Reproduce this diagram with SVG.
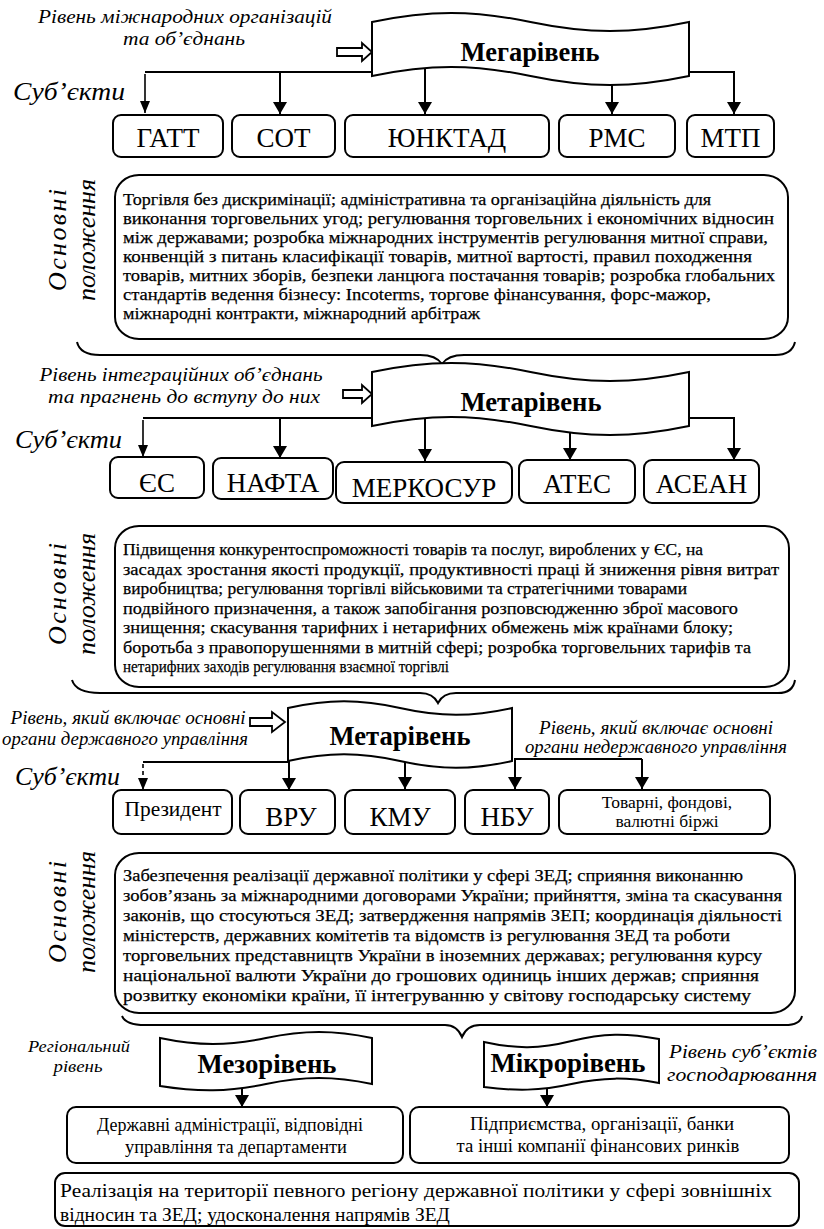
<svg xmlns="http://www.w3.org/2000/svg" width="824" height="1229" viewBox="0 0 824 1229">
<defs>
<style>
.t{font-family:"Liberation Serif","Times New Roman",serif;fill:#000}
.i{font-style:italic}
.ln{fill:none;stroke:#000;stroke-width:2}
.bx{fill:#fff;stroke:#000;stroke-width:2}
.bn{fill:#fff;stroke:#000;stroke-width:2}
.ar{stroke:#000;stroke-width:2;fill:none;marker-end:url(#ah)}
.ars{stroke:#000;stroke-width:1.6;fill:none;marker-end:url(#ahs)}
.ho{fill:#fff;stroke:#000;stroke-width:1.8}
.bt{font-size:17.5px;stroke:#000;stroke-width:0.25}
.sub{font-size:25px;font-style:italic}
.lbl{font-size:19px;font-style:italic}
.nd{font-size:27px}
.rot{font-size:26px;font-style:italic}
.bnt{font-size:27px;font-weight:bold}
</style>
<marker id="ah" viewBox="0 0 12 14" refX="12" refY="7" markerWidth="12" markerHeight="14" markerUnits="userSpaceOnUse" orient="auto"><path d="M0,0L12,7L0,14z"/></marker>
<marker id="ahs" viewBox="0 0 12 10" refX="12" refY="5" markerWidth="12" markerHeight="10" markerUnits="userSpaceOnUse" orient="auto"><path d="M0,0L12,5L0,10z"/></marker>
</defs>
<rect width="824" height="1229" fill="#fff"/>

<g id="connectors">
  <path class="ln" d="M145,72H372"/>
  <path class="ars" d="M145,74V113"/>
  <path class="ar" d="M280,72V114"/>
  <path class="ar" d="M425,66V114"/>
  <path class="ar" d="M612,84V114"/>
  <path class="ar" d="M689,72H734V114"/>
  <polygon class="ho" points="337,48 362,48 362,43 372,52 362,61 362,56 337,56"/>
  <path class="ln" d="M143,418H372"/>
  <path class="ars" d="M143,420V457"/>
  <path class="ar" d="M280,418V458"/>
  <path class="ar" d="M425,414V461"/>
  <path class="ar" d="M570,431V460"/>
  <path class="ar" d="M689,418H734V460"/>
  <polygon class="ho" points="343,390 362,390 362,385 372,394 362,403 362,398 343,398"/>
  <path class="ln" d="M143,762H288"/>
  <path class="ars" d="M143,764V790" stroke-dasharray="4,3"/>
  <path class="ar" d="M289,761V790"/>
  <path class="ar" d="M405,757V789"/>
  <path class="ln" d="M514,759H642"/>
  <path class="ar" d="M515,759V789"/>
  <path class="ar" d="M642,759V789"/>
  <polygon class="ho" points="250,718 272,718 272,712 285,722 272,732 272,726 250,726"/>
  <path class="ar" d="M242,1088V1107"/>
  <path class="ar" d="M547,1086V1107"/>
  <path class="ln" d="M77,342Q80,355 100,355L420,355Q436,355 442,364Q448,355 464,355L775,355Q792,355 795,342"/>
  <path class="ln" d="M72,680Q76,693 100,693L420,693Q433,693 438,703Q443,693 456,693L778,693Q793,693 795,680"/>
  <path class="ln" d="M122,1016Q126,1025 145,1025L445,1025Q457,1025 462,1037Q467,1025 480,1025L785,1025Q800,1025 802,1016"/>
</g>

<g id="lbl-mega">
  <text class="t lbl" x="185" y="23" text-anchor="middle" textLength="294" lengthAdjust="spacingAndGlyphs">Рівень міжнародних організацій</text>
  <text class="t lbl" x="184" y="45" text-anchor="middle" textLength="122" lengthAdjust="spacingAndGlyphs">та об’єднань</text>
</g>
<g id="mega">
  <path class="bn" d="M372,22C429,10 473,10 530.5,22C588,34 632,34 689,22L689,76C632,88 588,88 530.5,76C473,64 429,64 372,76Z"/>
  <text class="t bnt" x="530" y="61" text-anchor="middle" textLength="139" lengthAdjust="spacingAndGlyphs">Мегарівень</text>
</g>
<g id="sub1"><text class="t sub" x="13" y="100" textLength="112" lengthAdjust="spacingAndGlyphs">Суб’єкти</text></g>
<g id="n-gatt"><rect class="bx" x="113" y="115" width="110" height="42" rx="8"/><text class="t nd" x="168" y="147" text-anchor="middle">ГАТТ</text></g>
<g id="n-sot"><rect class="bx" x="232" y="115" width="103" height="42" rx="8"/><text class="t nd" x="283.5" y="147" text-anchor="middle">СОТ</text></g>
<g id="n-unctad"><rect class="bx" x="345" y="115" width="204" height="42" rx="8"/><text class="t nd" x="447" y="147" text-anchor="middle">ЮНКТАД</text></g>
<g id="n-rms"><rect class="bx" x="559" y="115" width="116" height="42" rx="8"/><text class="t nd" x="617" y="147" text-anchor="middle">РМС</text></g>
<g id="n-mtp"><rect class="bx" x="687" y="115" width="87" height="42" rx="8"/><text class="t nd" x="730.5" y="147" text-anchor="middle">МТП</text></g>

<g id="pos1">
  <text class="t rot" transform="translate(66,240) rotate(-90)" text-anchor="middle" textLength="102" lengthAdjust="spacing">Основні</text>
  <text class="t rot" transform="translate(95,240) rotate(-90)" text-anchor="middle" textLength="122" lengthAdjust="spacing">положення</text>
</g>
<g id="box1">
  <rect class="bx" x="115" y="175" width="673" height="164" rx="24" ry="22"/>
  <g class="t bt">
    <text x="123" y="205" textLength="588" lengthAdjust="spacingAndGlyphs">Торгівля без дискримінації; адміністративна та організаційна діяльність для</text>
    <text x="123" y="224" textLength="651" lengthAdjust="spacingAndGlyphs">виконання  торговельних угод; регулювання торговельних і економічних відносин</text>
    <text x="123" y="243" textLength="645" lengthAdjust="spacingAndGlyphs">між державами; розробка міжнародних інструментів регулювання митної справи,</text>
    <text x="123" y="262" textLength="629" lengthAdjust="spacingAndGlyphs">конвенцій з питань класифікації товарів, митної вартості, правил походження</text>
    <text x="123" y="281" textLength="652" lengthAdjust="spacingAndGlyphs">товарів, митних зборів, безпеки ланцюга постачання товарів; розробка глобальних</text>
    <text x="123" y="300" textLength="588" lengthAdjust="spacingAndGlyphs">стандартів ведення бізнесу: Incoterms, торгове фінансування, форс-мажор,</text>
    <text x="123" y="319" textLength="357" lengthAdjust="spacingAndGlyphs">міжнародні контракти, міжнародний арбітраж</text>
  </g>
</g>

<g id="lbl-meta1">
  <text class="t lbl" x="181" y="381" text-anchor="middle" textLength="283" lengthAdjust="spacingAndGlyphs">Рівень інтеграційних об’єднань</text>
  <text class="t lbl" x="184" y="403" text-anchor="middle" textLength="272" lengthAdjust="spacingAndGlyphs">та прагнень до вступу до них</text>
</g>
<g id="meta1">
  <path class="bn" d="M372,372C429,360 473,360 530.5,372C588,384 632,384 689,372L689,426C632,438 588,438 530.5,426C473,414 429,414 372,426Z"/>
  <text class="t bnt" x="531" y="411" text-anchor="middle" textLength="141" lengthAdjust="spacingAndGlyphs">Метарівень</text>
</g>
<g id="sub2"><text class="t sub" x="15" y="448" textLength="107" lengthAdjust="spacingAndGlyphs">Суб’єкти</text></g>
<g id="n-es"><rect class="bx" x="110" y="457" width="94" height="41" rx="8"/><text class="t nd" x="157" y="492" text-anchor="middle">ЄС</text></g>
<g id="n-nafta"><rect class="bx" x="213" y="458" width="120" height="41" rx="8"/><text class="t nd" x="273" y="492" text-anchor="middle">НАФТА</text></g>
<g id="n-mercosur"><rect class="bx" x="336" y="462" width="176" height="41" rx="8"/><text class="t nd" x="424" y="497" text-anchor="middle">МЕРКОСУР</text></g>
<g id="n-ates"><rect class="bx" x="519" y="460" width="116" height="43" rx="8"/><text class="t nd" x="577" y="493" text-anchor="middle">АТЕС</text></g>
<g id="n-asean"><rect class="bx" x="644" y="460" width="115" height="43" rx="8"/><text class="t nd" x="701.5" y="493" text-anchor="middle">АСЕАН</text></g>

<g id="pos2">
  <text class="t rot" transform="translate(66,594) rotate(-90)" text-anchor="middle" textLength="102" lengthAdjust="spacing">Основні</text>
  <text class="t rot" transform="translate(95,594) rotate(-90)" text-anchor="middle" textLength="122" lengthAdjust="spacing">положення</text>
</g>
<g id="box2">
  <rect class="bx" x="115" y="526" width="674" height="161" rx="24" ry="22"/>
  <g class="t bt">
    <text x="123" y="555" textLength="580" lengthAdjust="spacingAndGlyphs">Підвищення конкурентоспроможності товарів та послуг, вироблених у ЄС, на</text>
    <text x="123" y="574.5" textLength="656" lengthAdjust="spacingAndGlyphs">засадах зростання якості продукції, продуктивності праці й зниження рівня витрат</text>
    <text x="123" y="594" textLength="564" lengthAdjust="spacingAndGlyphs">виробництва; регулювання торгівлі військовими та стратегічними товарами</text>
    <text x="123" y="613.5" textLength="615" lengthAdjust="spacingAndGlyphs">подвійного призначення, а також запобігання розповсюдженню зброї масового</text>
    <text x="123" y="633" textLength="610" lengthAdjust="spacingAndGlyphs">знищення; скасування тарифних і нетарифних обмежень між країнами блоку;</text>
    <text x="123" y="652.5" textLength="628" lengthAdjust="spacingAndGlyphs">боротьба з правопорушеннями в митній сфері; розробка торговельних тарифів та</text>
    <text x="123" y="672" textLength="326" lengthAdjust="spacingAndGlyphs">нетарифних заходів регулювання взаємної торгівлі</text>
  </g>
</g>

<g id="lbl-meta2-left">
  <text class="t lbl" x="128" y="724" text-anchor="middle" textLength="235" lengthAdjust="spacingAndGlyphs" font-size="17">Рівень, який включає основні</text>
  <text class="t lbl" x="125" y="745" text-anchor="middle" textLength="246" lengthAdjust="spacingAndGlyphs" font-size="17">органи державного управління</text>
</g>
<g id="lbl-meta2-right">
  <text class="t lbl" x="656" y="734" text-anchor="middle" textLength="234" lengthAdjust="spacingAndGlyphs" font-size="17">Рівень, який включає основні</text>
  <text class="t lbl" x="656" y="753" text-anchor="middle" textLength="262" lengthAdjust="spacingAndGlyphs" font-size="17">органи недержавного управління</text>
</g>
<g id="meta2">
  <path class="bn" d="M288,708C328,699 360,699 400,708C440,717 472,717 512,708L512,761C472,770 440,770 400,761C360,752 328,752 288,761Z"/>
  <text class="t bnt" x="400" y="745" text-anchor="middle" textLength="141" lengthAdjust="spacingAndGlyphs">Метарівень</text>
</g>
<g id="sub3"><text class="t sub" x="15" y="785" textLength="105" lengthAdjust="spacingAndGlyphs">Суб’єкти</text></g>
<g id="n-president"><rect class="bx" x="113" y="790" width="119" height="44" rx="8"/><text class="t" x="173" y="816" text-anchor="middle" font-size="20" textLength="97" lengthAdjust="spacingAndGlyphs">Президент</text></g>
<g id="n-vru"><rect class="bx" x="240" y="790" width="95" height="44" rx="8"/><text class="t nd" x="291" y="826" text-anchor="middle">ВРУ</text></g>
<g id="n-kmu"><rect class="bx" x="345" y="790" width="110" height="44" rx="8"/><text class="t nd" x="400" y="826" text-anchor="middle">КМУ</text></g>
<g id="n-nbu"><rect class="bx" x="465" y="790" width="84" height="44" rx="8"/><text class="t nd" x="507" y="826" text-anchor="middle">НБУ</text></g>
<g id="n-birzhi"><rect class="bx" x="559" y="790" width="211" height="44" rx="8"/>
  <text class="t" font-size="17.5" x="667" y="808" text-anchor="middle">Товарні, фондові,</text>
  <text class="t" font-size="17.5" x="667" y="827" text-anchor="middle">валютні біржі</text>
</g>

<g id="pos3">
  <text class="t rot" transform="translate(66,912) rotate(-90)" text-anchor="middle" textLength="102" lengthAdjust="spacing">Основні</text>
  <text class="t rot" transform="translate(95,912) rotate(-90)" text-anchor="middle" textLength="122" lengthAdjust="spacing">положення</text>
</g>
<g id="box3">
  <rect class="bx" x="115" y="853" width="680" height="160" rx="24" ry="22"/>
  <g class="t bt">
    <text x="123" y="881" textLength="620" lengthAdjust="spacingAndGlyphs">Забезпечення реалізації державної політики у сфері ЗЕД;  сприяння виконанню</text>
    <text x="123" y="901" textLength="659" lengthAdjust="spacingAndGlyphs">зобов’язань за міжнародними договорами України; прийняття, зміна та скасування</text>
    <text x="123" y="921" textLength="659" lengthAdjust="spacingAndGlyphs">законів,  що  стосуються ЗЕД; затвердження  напрямів ЗЕП; координація діяльності</text>
    <text x="123" y="941" textLength="607" lengthAdjust="spacingAndGlyphs">міністерств, державних комітетів та відомств із регулювання ЗЕД та роботи</text>
    <text x="123" y="961" textLength="639" lengthAdjust="spacingAndGlyphs">торговельних представництв України в іноземних державах; регулювання курсу</text>
    <text x="123" y="981" textLength="636" lengthAdjust="spacingAndGlyphs">національної  валюти  України  до  грошових одиниць інших держав; сприяння</text>
    <text x="123" y="1001" textLength="628" lengthAdjust="spacingAndGlyphs">розвитку економіки країни, її інтегруванню у світову господарську систему</text>
  </g>
</g>

<g id="lbl-mezo">
  <text class="t i" x="79" y="1052" text-anchor="middle" font-size="16" textLength="102" lengthAdjust="spacingAndGlyphs">Регіональний</text>
  <text class="t i" x="78" y="1072" text-anchor="middle" font-size="16" textLength="49" lengthAdjust="spacingAndGlyphs">рівень</text>
</g>
<g id="mezo">
  <path class="bn" d="M160,1038C198,1046 228,1046 266,1038C304,1030 334,1030 372,1038L372,1084C334,1076 304,1076 266,1084C228,1092 198,1092 160,1086Z"/>
  <text class="t bnt" x="267" y="1073" text-anchor="middle" textLength="139" lengthAdjust="spacingAndGlyphs">Мезорівень</text>
</g>
<g id="mikro">
  <path class="bn" d="M484,1042C515,1049 540,1049 571.5,1041C603,1033 627,1033 659,1039L659,1083C627,1077 603,1077 571.5,1084C540,1091 515,1091 484,1087Z"/>
  <text class="t bnt" x="568" y="1072" text-anchor="middle" textLength="155" lengthAdjust="spacingAndGlyphs">Мікрорівень</text>
</g>
<g id="lbl-mikro">
  <text class="t lbl" x="743" y="1058" text-anchor="middle" textLength="148" lengthAdjust="spacingAndGlyphs">Рівень суб’єктів</text>
  <text class="t lbl" x="742" y="1081" text-anchor="middle" textLength="150" lengthAdjust="spacingAndGlyphs">господарювання</text>
</g>
<g id="n-derzh">
  <rect class="bx" x="67" y="1107" width="336" height="56" rx="9"/>
  <text class="t" x="230" y="1131" text-anchor="middle" font-size="18" textLength="266" lengthAdjust="spacingAndGlyphs">Державні адміністрації, відповідні</text>
  <text class="t" x="236" y="1153" text-anchor="middle" font-size="18" textLength="222" lengthAdjust="spacingAndGlyphs">управління та департаменти</text>
</g>
<g id="n-pidpr">
  <rect class="bx" x="410" y="1107" width="379" height="56" rx="9"/>
  <text class="t" x="602" y="1130" text-anchor="middle" font-size="18" textLength="264" lengthAdjust="spacingAndGlyphs">Підприємства, організації, банки</text>
  <text class="t" x="598" y="1152" text-anchor="middle" font-size="18" textLength="283" lengthAdjust="spacingAndGlyphs">та інші компанії фінансових ринків</text>
</g>
<g id="n-region">
  <rect class="bx" x="55" y="1173" width="744" height="53" rx="10"/>
  <text class="t" x="60" y="1197" font-size="19.5" textLength="712" lengthAdjust="spacingAndGlyphs">Реалізація на території певного регіону державної політики у сфері зовнішніх</text>
  <text class="t" x="60" y="1221" font-size="19.5">відносин та ЗЕД; удосконалення напрямів ЗЕД</text>
</g>
</svg>
